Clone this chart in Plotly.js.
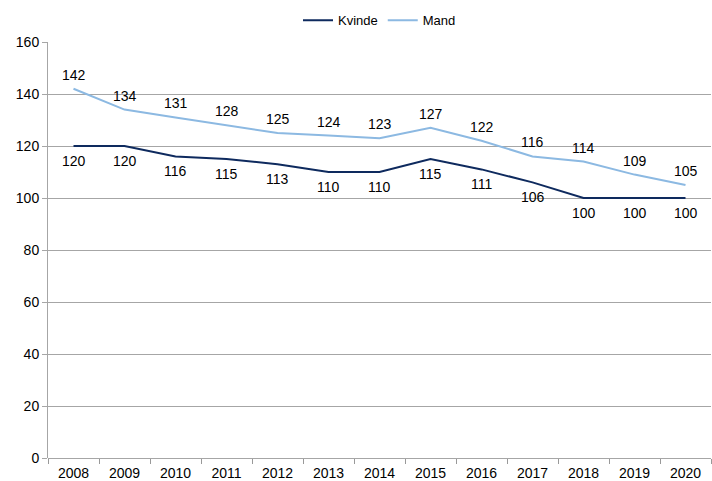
<!DOCTYPE html>
<html>
<head>
<meta charset="utf-8">
<script src="https://cdn.plot.ly/plotly-3.0.1.min.js"></script>
<style>
  body { margin: 0; background: #fff; }
  #chart { width: 712px; height: 481px; }
</style>
</head>
<body>
<div id="chart"></div>
<script>
const years = ['2008', '2009', '2010', '2011', '2012', '2013', '2014', '2015', '2016', '2017', '2018', '2019', '2020']
const kvinde = [120, 120, 116, 115, 113, 110, 110, 115, 111, 106, 100, 100, 100]
const mand = [142, 134, 131, 128, 125, 124, 123, 127, 122, 116, 114, 109, 105]

const fontFamily = 'Liberation Sans, Arial, sans-serif'
const labelFont = {family: fontFamily, size: 14, color: '#000'}

const traces = [
  {
    name: 'Kvinde',
    x: years,
    y: kvinde,
    type: 'scatter',
    mode: 'lines',
    line: {color: '#0e2a5e', width: 2},
    hoverinfo: 'x+y',
  },
  {
    name: 'Mand',
    x: years,
    y: mand,
    type: 'scatter',
    mode: 'lines',
    line: {color: '#8cb9e2', width: 2},
    hoverinfo: 'x+y',
  },
]

// value labels: Kvinde below its line, Mand above
// (x given as category index, a '2008' string would be read as index 2008)
let annotations = []
years.forEach((yr, i) => {
  annotations.push({
    x: i, y: kvinde[i], text: String(kvinde[i]),
    showarrow: false, yshift: -15, font: labelFont,
  })
  annotations.push({
    x: i, y: mand[i], text: String(mand[i]),
    showarrow: false, yshift: 14, font: labelFont,
  })
})

const layout = {
  width: 712,
  height: 481,
  margin: {l: 48, r: 1, t: 42, b: 23},
  paper_bgcolor: '#fff',
  plot_bgcolor: '#fff',
  font: labelFont,
  showlegend: true,
  legend: {
    orientation: 'h',
    x: 0.5,
    xanchor: 'center',
    y: 1.052,
    yanchor: 'middle',
    font: {family: fontFamily, size: 13, color: '#000'},
  },
  annotations,
  xaxis: {
    type: 'category',
    range: [-0.5, 12.5],
    showgrid: false,
    zeroline: false,
    showline: false,
    ticks: 'outside',
    tickson: 'boundaries',
    ticklen: 5,
    tickcolor: '#999',
    ticklabelstandoff: 5,
    tickfont: labelFont,
  },
  yaxis: {
    range: [0, 160],
    dtick: 20,
    showgrid: true,
    gridcolor: '#a6a6a6',
    gridwidth: 1,
    zeroline: true,
    zerolinecolor: '#a6a6a6',
    showline: true,
    linecolor: '#a6a6a6',
    ticks: 'outside',
    ticklen: 5,
    tickcolor: '#a6a6a6',
    tickfont: labelFont,
  },
}

Plotly.newPlot('chart', traces, layout, {displayModeBar: false})
</script>
</body>
</html>
